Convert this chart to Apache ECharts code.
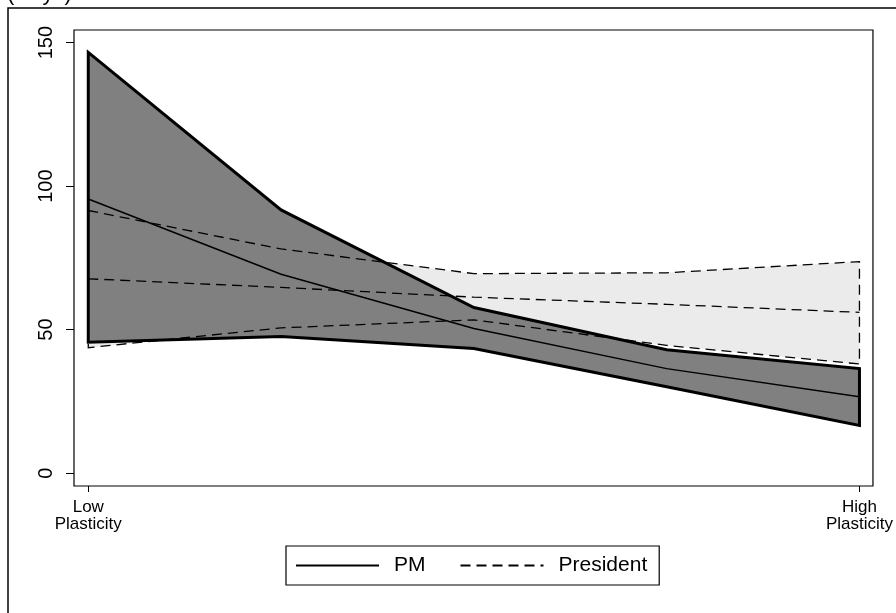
<!DOCTYPE html>
<html>
<head>
<meta charset="utf-8">
<script src="https://cdn.jsdelivr.net/npm/echarts@6/dist/echarts.min.js"></script>
<style>
html,body{margin:0;padding:0;background:#fff;}
#chart{width:896px;height:613px;}
</style>
</head>
<body>
<div id="chart"></div>
<script>
const xPositions = [0, 1, 2, 3, 4];
const xTickValues = [0, 4];
const xTickLabels = ['Low\nPlasticity', 'High\nPlasticity'];
const yTickValues = [0, 50, 100, 150];
const pmUpper = [146.6, 91.7, 57.7, 43.0, 36.4];
const pmMid = [95.5, 69.3, 50.4, 36.4, 26.6];
const pmLower = [45.6, 47.6, 43.4, 30.1, 16.6];
const presUpper = [91.5, 78.1, 69.5, 69.8, 73.7];
const presMid = [67.7, 64.7, 61.3, 58.8, 56.0];
const presLower = [43.7, 50.6, 53.4, 44.5, 38.0];
const seriesNames = ['PM', 'President'];
const yTitle = '(Days)';

const FONT = '"Liberation Sans", Arial, Helvetica, sans-serif';
const chart = echarts.init(document.getElementById('chart'));

function bandRenderer(upper, lower, style) {
  return function (params, api) {
    const pts = [];
    for (let i = 0; i < xPositions.length; i++) pts.push(api.coord([xPositions[i], upper[i]]));
    for (let i = xPositions.length - 1; i >= 0; i--) pts.push(api.coord([xPositions[i], lower[i]]));
    return { type: 'polygon', shape: { points: pts }, style: style, silent: true };
  };
}

const dash = [10, 6];
function lineSeries(name, values, type, width, z) {
  return {
    name: name,
    type: 'line',
    data: xPositions.map((x, i) => [x, values[i]]),
    symbol: 'none',
    showSymbol: false,
    lineStyle: { color: '#000', width: width, type: type },
    itemStyle: { color: '#000' },
    z: z,
    silent: true,
    animation: false
  };
}

const option = {
  animation: false,
  backgroundColor: '#fff',
  grid: {
    left: 74, top: 30, right: 23, bottom: 127,
    show: true, borderColor: '#000', borderWidth: 1.2, backgroundColor: 'transparent'
  },
  xAxis: {
    type: 'value', min: -0.074, max: 4.07,
    axisLine: { show: false, onZero: false },
    splitLine: { show: false },
    axisTick: { show: true, inside: false, customValues: xTickValues, length: 6, lineStyle: { color: '#000', width: 1 } },
    axisLabel: {
      customValues: xTickValues,
      formatter: v => xTickLabels[xTickValues.indexOf(v)],
      color: '#000', fontFamily: FONT, fontSize: 17, lineHeight: 17, margin: 13
    }
  },
  yAxis: {
    type: 'value', min: -4.5, max: 154.4,
    axisLine: { show: false, onZero: false },
    splitLine: { show: false },
    axisTick: { show: true, inside: false, customValues: yTickValues, length: 8, lineStyle: { color: '#000', width: 1 } },
    axisLabel: {
      customValues: yTickValues, rotate: 90,
      color: '#000', fontFamily: FONT, fontSize: 20, margin: 18
    }
  },
  legend: {
    left: 286, top: 546, width: 377, height: 38,
    orient: 'horizontal',
    data: seriesNames.map(n => ({ name: n, itemStyle: { opacity: 0 } })),
    borderColor: '#000', borderWidth: 1.2,
    padding: [9, 12, 9, 9],
    itemWidth: 83, itemHeight: 18, itemGap: 34,
    textStyle: { color: '#000', fontFamily: FONT, fontSize: 21, padding: [0, 0, 0, 10] },
    selectedMode: false
  },
  graphic: [
    { type: 'rect', shape: { x: 8, y: 8, width: 1200, height: 1200 }, style: { fill: 'none', stroke: '#000', lineWidth: 1.5 }, silent: true },
    { type: 'text', x: 7, y: 5, style: { text: yTitle, font: '22px ' + FONT, fill: '#000', verticalAlign: 'bottom' }, silent: true }
  ],
  series: [
    { type: 'custom', data: [0], z: 1, renderItem: bandRenderer(presUpper, presLower, { fill: '#ebebeb', stroke: null }), silent: true },
    { type: 'custom', data: [0], z: 2, renderItem: bandRenderer(pmUpper, pmLower, { fill: '#808080', stroke: '#000', lineWidth: 3, lineJoin: 'miter' }), silent: true },
    lineSeries('PM', pmMid, 'solid', 1.5, 3),
    { type: 'custom', data: [0], z: 4, renderItem: bandRenderer(presUpper, presLower, { fill: 'none', stroke: '#000', lineWidth: 1.3, lineDash: dash }), silent: true },
    lineSeries('President', presMid, dash, 1.3, 4)
  ]
};
chart.setOption(option);
</script>
</body>
</html>
